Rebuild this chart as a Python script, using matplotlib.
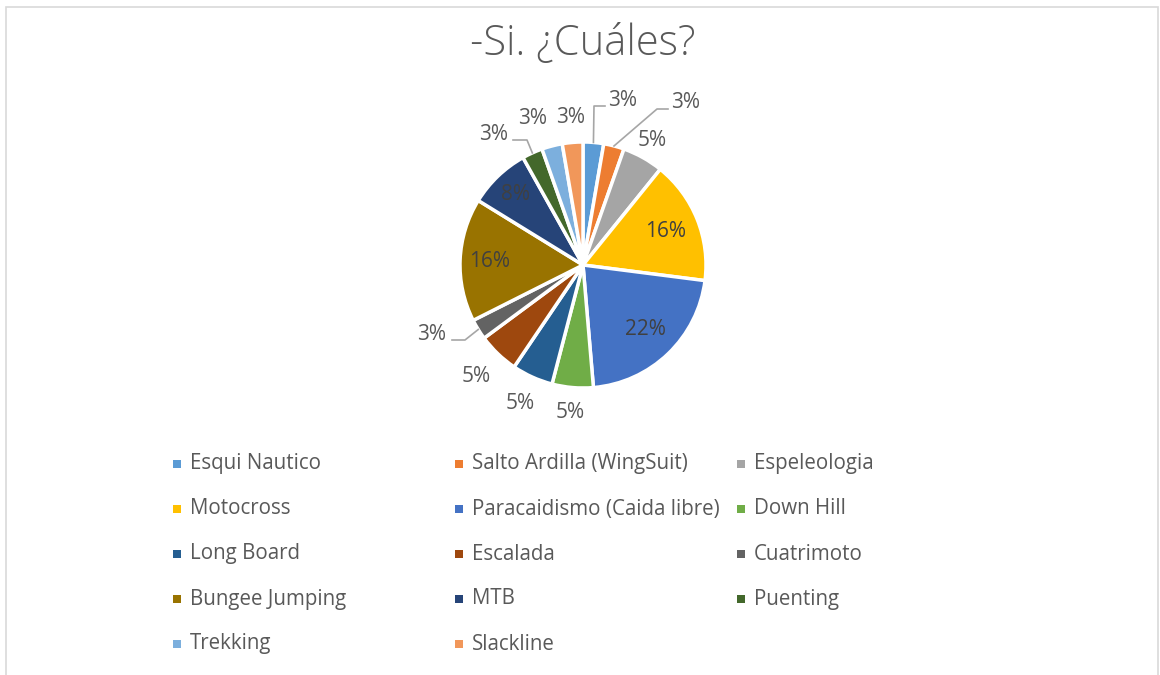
import numpy as np
import matplotlib.pyplot as plt
from matplotlib.patches import Rectangle

# datos de la encuesta (conteos de respuestas)
deportes = ['Esqui Nautico', 'Salto Ardilla (WingSuit)', 'Espeleologia',
            'Motocross', 'Paracaidismo (Caida libre)', 'Down Hill',
            'Long Board', 'Escalada', 'Cuatrimoto', 'Bungee Jumping',
            'MTB', 'Puenting', 'Trekking', 'Slackline']
conteos = [1, 1, 2, 6, 8, 2, 2, 2, 1, 6, 3, 1, 1, 1]
colores = ['#5B9BD5', '#ED7D31', '#A5A5A5', '#FFC000', '#4472C4', '#70AD47',
           '#255E91', '#9E480E', '#636363', '#997300', '#264478', '#43682B',
           '#7CAFDD', '#F1975A']
titulo = '-Si. ¿Cuáles?'

W, H = 1160, 675
cx, cy, R = 583, 410, 123   # centro del pie (pixeles, desde abajo) y radio
L = 210

fig = plt.figure(figsize=(W / 100, H / 100), dpi=100)
fig.patch.set_facecolor('white')

# marco gris del grafico
fig.add_artist(Rectangle((6 / W, -0.01), 1152 / W, (H - 7) / H + 0.01,
                         transform=fig.transFigure, fill=False,
                         edgecolor='#D9D9D9', linewidth=1.2))

fig.text(cx / W, 1 - 44 / H, titulo, ha='center', va='center',
         fontsize=30, color='#595959', family='Open Sans', fontweight='light')

ax = fig.add_axes([(cx - L) / W, (cy - L) / H, 2 * L / W, 2 * L / H])
wedges, _ = ax.pie(conteos, colors=colores, startangle=90, counterclock=False,
                   radius=1.0, wedgeprops=dict(edgecolor='white', linewidth=2.5))
# pie() fija sus propios limites, se ajustan despues
ax.set_xlim(-L / R, L / R)
ax.set_ylim(-L / R, L / R)
ax.set_aspect('equal')
ax.axis('off')

total = float(sum(conteos))
acum = np.cumsum([0] + conteos)
# posicion radial de cada etiqueta (fraccion del radio); None = posicion fija
radios = [None, None, 1.16, 0.72, 0.73, 1.2, 1.24, 1.25, None, 0.76,
          0.79, None, None, 1.2]
# etiquetas fuera de lugar: (codo, fin, texto) en pixeles relativos al centro
guias = {
    0: ((11, 159), (22, 159), (40, 165)),
    1: ((74, 156), (85, 156), (103, 162)),
    8: ((-118, -75), (-131, -75), (-151, -70)),
    11: ((-56, 125), (-70, 125), (-89, 131)),
    12: (None, None, (-50, 147)),
}

for i, c in enumerate(conteos):
    mid = 90 - 360 * (acum[i] + c / 2.0) / total
    a = np.deg2rad(mid)
    pct = '%d%%' % round(100 * c / total)
    if radios[i] is None:
        codo, fin, txt = guias[i]
        if codo is not None:
            xs = [np.cos(a), codo[0] / R, fin[0] / R]
            ys = [np.sin(a), codo[1] / R, fin[1] / R]
            ax.plot(xs, ys, color='#A6A6A6', linewidth=1.2, clip_on=False)
        tx, ty = txt[0] / R, txt[1] / R
        col = '#595959'
    else:
        tx, ty = radios[i] * np.cos(a), radios[i] * np.sin(a)
        col = '#404040' if radios[i] < 1 else '#595959'
    ax.text(tx, ty, pct, ha='center', va='center', fontsize=15,
            color=col, family='Open Sans', clip_on=False)

# leyenda en tres columnas, orden por filas como en Excel
for i, nombre in enumerate(deportes):
    fila, colm = divmod(i, 3)
    x0 = 173 + colm * 282
    y0 = H - (464 + fila * 45)
    fig.add_artist(Rectangle((x0 / W, (y0 - 4) / H), 8 / W, 8 / H,
                             transform=fig.transFigure,
                             facecolor=colores[i], edgecolor='none'))
    fig.text((x0 + 17) / W, y0 / H, nombre, ha='left', va='center',
             fontsize=14.8, color='#595959', family='Open Sans')

fig.savefig('out.png', dpi=100)
